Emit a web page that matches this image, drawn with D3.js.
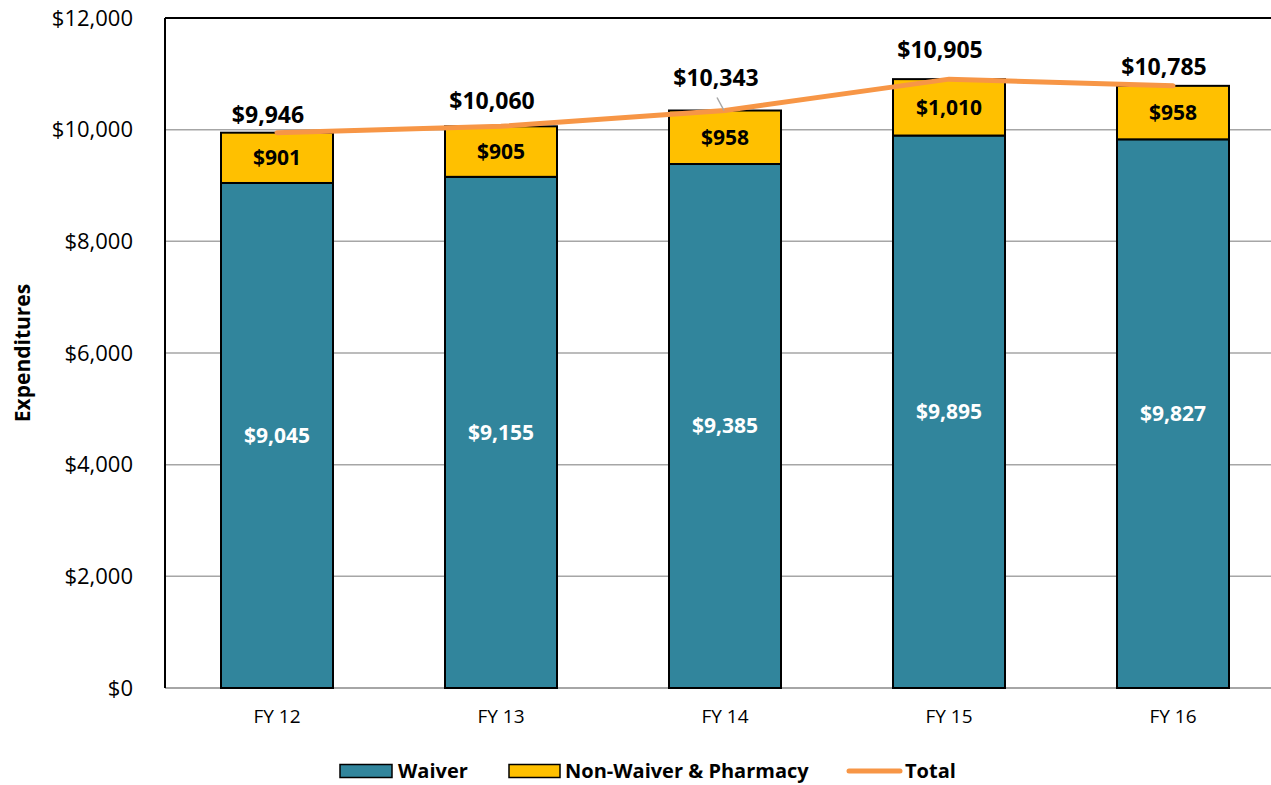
<!DOCTYPE html>
<html><head><meta charset="utf-8">
<script src="https://cdn.jsdelivr.net/npm/d3@7"></script>
<style>body{margin:0;background:#fff;} svg{display:block;font-family:"Open Sans",sans-serif;}</style>
</head><body>
<svg id="c" width="1271" height="785"></svg>
<script>
const categories = ["FY 12","FY 13","FY 14","FY 15","FY 16"];
const waiver = [9045, 9155, 9385, 9895, 9827];
const nonWaiver = [901, 905, 958, 1010, 958];
const totals = [9946, 10060, 10343, 10905, 10785];
const yTicks = [0, 2000, 4000, 6000, 8000, 10000, 12000];
const seriesNames = ["Waiver", "Non-Waiver & Pharmacy", "Total"];
// layout-only: how far each total label sits above its point (px)
const totalLabelLift = [18, 25, 33, 29, 19];

const colors = {waiver:"#31859C", non:"#FFC000", total:"#F79646"};
const svg = d3.select("#c");
const L = 165, T = 18, B = 688, R = 1285;
const x = d3.scaleBand().domain(categories).range([L, R]).paddingInner(0.5).paddingOuter(0.25);
const y = d3.scaleLinear().domain([0, 12000]).range([B, T]);
const fmt = d3.format("$,");

// gridlines
svg.append("g").selectAll("line").data(yTicks.filter(d=>d>0 && d<12000)).join("line")
  .attr("x1", L).attr("x2", R).attr("y1", d=>y(d)).attr("y2", d=>y(d))
  .attr("stroke", "#A6A6A6").attr("stroke-width", 1.5);
// baseline
svg.append("line").attr("x1", L).attr("x2", R).attr("y1", y(0)).attr("y2", y(0))
  .attr("stroke", "#A6A6A6").attr("stroke-width", 2);
// frame
svg.append("line").attr("x1", L).attr("x2", R).attr("y1", y(12000)).attr("y2", y(12000))
  .attr("stroke", "#000").attr("stroke-width", 2);
svg.append("line").attr("x1", L).attr("x2", L).attr("y1", y(12000)).attr("y2", y(0))
  .attr("stroke", "#000").attr("stroke-width", 2);

// y axis labels
const yAxis = d3.axisLeft(y).tickValues(yTicks).tickFormat(fmt).tickSize(0).tickPadding(32);
const ga = svg.append("g").attr("transform", `translate(${L},0)`).call(yAxis);
ga.select(".domain").remove();
ga.selectAll("text").attr("font-size", 22).attr("fill", "#000").attr("font-family", "'Open Sans', sans-serif");

// x axis labels
const xAxis = d3.axisBottom(x).tickSize(0).tickPadding(22);
const gx = svg.append("g").attr("transform", `translate(0,${B})`).call(xAxis);
gx.select(".domain").remove();
gx.selectAll("text").attr("font-size", 19).attr("fill", "#000").attr("font-family", "'Open Sans', sans-serif");

// axis title
svg.append("text").attr("transform", `translate(30,${(T+B)/2}) rotate(-90)`)
  .attr("text-anchor", "middle").attr("font-size", 21).attr("font-weight", "bold").text("Expenditures");

// bars
const idx = d3.range(categories.length);
svg.append("g").selectAll("rect").data(idx).join("rect")
  .attr("x", i=>x(categories[i])).attr("width", x.bandwidth())
  .attr("y", i=>y(waiver[i])).attr("height", i=>y(0)-y(waiver[i]))
  .attr("fill", colors.waiver).attr("stroke", "#000").attr("stroke-width", 2);
svg.append("g").selectAll("rect").data(idx).join("rect")
  .attr("x", i=>x(categories[i])).attr("width", x.bandwidth())
  .attr("y", i=>y(waiver[i]+nonWaiver[i])).attr("height", i=>y(waiver[i])-y(waiver[i]+nonWaiver[i]))
  .attr("fill", colors.non).attr("stroke", "#000").attr("stroke-width", 2);

// segment labels
svg.append("g").selectAll("text").data(idx).join("text")
  .attr("x", i=>x(categories[i])+x.bandwidth()/2)
  .attr("y", i=>(y(0)+y(waiver[i]))/2).attr("dy", "0.35em")
  .attr("text-anchor", "middle").attr("font-size", 21).attr("font-weight", "bold").attr("fill", "#fff")
  .text(i=>fmt(waiver[i]));
svg.append("g").selectAll("text").data(idx).join("text")
  .attr("x", i=>x(categories[i])+x.bandwidth()/2)
  .attr("y", i=>(y(waiver[i])+y(waiver[i]+nonWaiver[i]))/2).attr("dy", "0.35em")
  .attr("text-anchor", "middle").attr("font-size", 21).attr("font-weight", "bold").attr("fill", "#000")
  .text(i=>fmt(nonWaiver[i]));

// total line
const cx = i => x(categories[i]) + x.bandwidth()/2;
svg.append("path").datum(idx)
  .attr("d", d3.line().x(i=>cx(i)).y(i=>y(totals[i])))
  .attr("fill", "none").attr("stroke", colors.total).attr("stroke-width", 5).attr("stroke-linecap", "round");

// leader line for FY 14 label
svg.append("line").attr("x1", cx(2)-8).attr("y1", y(totals[2])-13).attr("x2", cx(2)-1).attr("y2", y(totals[2]))
  .attr("stroke", "#A6A6A6").attr("stroke-width", 1.5);

// total labels
svg.append("g").selectAll("text").data(idx).join("text")
  .attr("x", i=>cx(i)-9)
  .attr("y", i=>y(totals[i]) - totalLabelLift[i]).attr("dy", "0.35em")
  .attr("text-anchor", "middle").attr("font-size", 23).attr("font-weight", "bold").attr("fill", "#000")
  .text(i=>fmt(totals[i]));

// legend
const lg = svg.append("g").attr("font-size", 20).attr("font-weight", "bold");
const ly = 771;
lg.append("rect").attr("x", 340).attr("y", ly-6.5).attr("width", 52).attr("height", 13)
  .attr("fill", colors.waiver).attr("stroke", "#000").attr("stroke-width", 1.5);
lg.append("text").attr("x", 398).attr("y", ly).attr("dy", "0.35em").text(seriesNames[0]);
lg.append("rect").attr("x", 509).attr("y", ly-6.5).attr("width", 51).attr("height", 13)
  .attr("fill", colors.non).attr("stroke", "#000").attr("stroke-width", 1.5);
lg.append("text").attr("x", 565).attr("y", ly).attr("dy", "0.35em").text(seriesNames[1]);
lg.append("line").attr("x1", 849).attr("x2", 900).attr("y1", ly).attr("y2", ly)
  .attr("stroke", colors.total).attr("stroke-width", 5).attr("stroke-linecap", "round");
lg.append("text").attr("x", 905).attr("y", ly).attr("dy", "0.35em").text(seriesNames[2]);
</script>
</body></html>
